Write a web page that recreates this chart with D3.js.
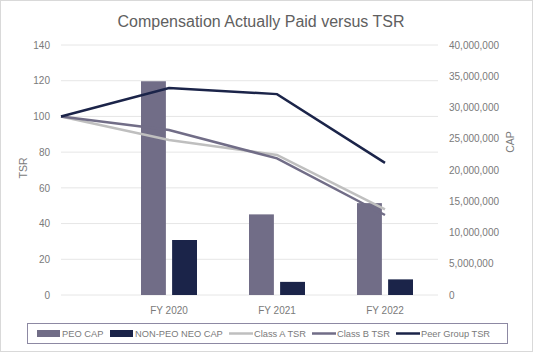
<!DOCTYPE html>
<html>
<head>
<meta charset="utf-8">
<script src="https://cdn.jsdelivr.net/npm/d3@7"></script>
<style>
  body { margin: 0; background: #fff; }
  text { font-family: "Liberation Sans", Arial, sans-serif; }
</style>
</head>
<body>
<svg width="533" height="352"></svg>
<script>
const categories = ['', 'FY 2020', 'FY 2021', 'FY 2022'];
const peoCap = [null, 34200000, 12900000, 14700000];
const nonPeoCap = [null, 8800000, 2100000, 2500000];
const classATsr = [100, 86.8, 78.4, 48];
const classBTsr = [100, 92.4, 76.5, 44.8];
const peerTsr = [100, 115.9, 112.5, 74];
const tsrTicks = [0, 20, 40, 60, 80, 100, 120, 140];
const capTicks = [0, 5e6, 10e6, 15e6, 20e6, 25e6, 30e6, 35e6, 40e6];

const svg = d3.select('svg');
const width = +svg.attr('width');
const height = +svg.attr('height');

const plotLeft = 61, plotRight = 438, plotTop = 45, plotBottom = 295;
const step = 108;
const textColor = '#7a7a7a';

svg.append('rect')
  .attr('x', 0.5).attr('y', 0.5)
  .attr('width', width - 1).attr('height', height - 1)
  .attr('fill', '#fff').attr('stroke', '#d9d9d9');

svg.append('text')
  .attr('x', 261).attr('y', 27)
  .attr('text-anchor', 'middle')
  .attr('font-size', 16)
  .attr('fill', '#606060')
  .text('Compensation Actually Paid versus TSR');

const xScale = d3.scaleBand()
  .domain(categories)
  .range([plotLeft - step / 2, plotLeft + step * 3.5]);
const cx = c => xScale(c) + xScale.bandwidth() / 2;

const yTsr = d3.scaleLinear().domain([0, 140]).range([plotBottom, plotTop]);
const yCap = d3.scaleLinear().domain([0, 40e6]).range([plotBottom, plotTop]);

// gridlines
svg.append('g').selectAll('line').data(tsrTicks)
  .enter().append('line')
  .attr('x1', plotLeft).attr('x2', plotRight)
  .attr('y1', d => yTsr(d)).attr('y2', d => yTsr(d))
  .attr('stroke', '#e6e6e6').attr('stroke-width', 1);

// left axis
const leftAxis = svg.append('g')
  .attr('transform', `translate(${plotLeft - 6},0)`)
  .call(d3.axisLeft(yTsr).tickValues(tsrTicks).tickSize(0).tickPadding(5));
leftAxis.select('.domain').remove();
leftAxis.selectAll('text').attr('font-size', 10).attr('fill', textColor)
  .attr('font-family', '"Liberation Sans", Arial, sans-serif');

// right axis
const rightAxis = svg.append('g')
  .attr('transform', `translate(${plotRight + 6},0)`)
  .call(d3.axisRight(yCap).tickValues(capTicks).tickSize(0).tickPadding(5)
    .tickFormat(d3.format(',')));
rightAxis.select('.domain').remove();
rightAxis.selectAll('text').attr('font-size', 10).attr('fill', textColor)
  .attr('font-family', '"Liberation Sans", Arial, sans-serif');

// x axis labels
svg.append('g').selectAll('text').data(categories.slice(1))
  .enter().append('text')
  .attr('x', d => cx(d)).attr('y', 314)
  .attr('text-anchor', 'middle')
  .attr('font-size', 10).attr('fill', textColor)
  .text(d => d);

// axis titles
svg.append('text')
  .attr('transform', 'translate(27,168) rotate(-90)')
  .attr('text-anchor', 'middle')
  .attr('font-size', 10.5).attr('fill', textColor)
  .text('TSR');
svg.append('text')
  .attr('transform', 'translate(514,142) rotate(-90)')
  .attr('text-anchor', 'middle')
  .attr('font-size', 10.5).attr('fill', textColor)
  .text('CAP');

// bars
const barSeries = [
  { name: 'PEO CAP', values: peoCap, color: '#716d87' },
  { name: 'NON-PEO NEO CAP', values: nonPeoCap, color: '#1b2449' },
];
const xSub = d3.scaleBand()
  .domain(barSeries.map(s => s.name))
  .range([-28, 28])
  .paddingInner(0.2);

barSeries.forEach(s => {
  svg.append('g').selectAll('rect')
    .data(categories.map((c, i) => ({ c, v: s.values[i] })).filter(d => d.v != null))
    .enter().append('rect')
    .attr('x', d => cx(d.c) + xSub(s.name))
    .attr('width', xSub.bandwidth())
    .attr('y', d => yCap(d.v))
    .attr('height', d => yCap(0) - yCap(d.v))
    .attr('fill', s.color);
});

// lines
const lineSeries = [
  { name: 'Class A TSR', values: classATsr, color: '#bfbfbf' },
  { name: 'Class B TSR', values: classBTsr, color: '#716d87' },
  { name: 'Peer Group TSR', values: peerTsr, color: '#1b2449' },
];
const line = d3.line()
  .x((d, i) => cx(categories[i]))
  .y(d => yTsr(d));
lineSeries.forEach(s => {
  svg.append('path')
    .datum(s.values)
    .attr('d', line)
    .attr('fill', 'none')
    .attr('stroke', s.color)
    .attr('stroke-width', 2.5);
});

// legend
svg.append('rect')
  .attr('x', 27.5).attr('y', 323.5)
  .attr('width', 480).attr('height', 20)
  .attr('fill', '#fff').attr('stroke', '#8d89a3');

const legendItems = [
  { name: 'PEO CAP', color: '#716d87', type: 'bar', x: 37 },
  { name: 'NON-PEO NEO CAP', color: '#1b2449', type: 'bar', x: 110 },
  { name: 'Class A TSR', color: '#bfbfbf', type: 'line', x: 229 },
  { name: 'Class B TSR', color: '#716d87', type: 'line', x: 312 },
  { name: 'Peer Group TSR', color: '#1b2449', type: 'line', x: 396 },
];
const lg = svg.append('g');
legendItems.forEach(d => {
  if (d.type === 'bar') {
    lg.append('rect').attr('x', d.x).attr('y', 330).attr('width', 23).attr('height', 7)
      .attr('fill', d.color);
  } else {
    lg.append('line').attr('x1', d.x).attr('x2', d.x + 24)
      .attr('y1', 333.5).attr('y2', 333.5)
      .attr('stroke', d.color).attr('stroke-width', 2.5);
  }
  lg.append('text')
    .attr('x', d.x + 25).attr('y', 337)
    .attr('font-size', 9.3).attr('fill', textColor)
    .text(d.name);
});
</script>
</body>
</html>
